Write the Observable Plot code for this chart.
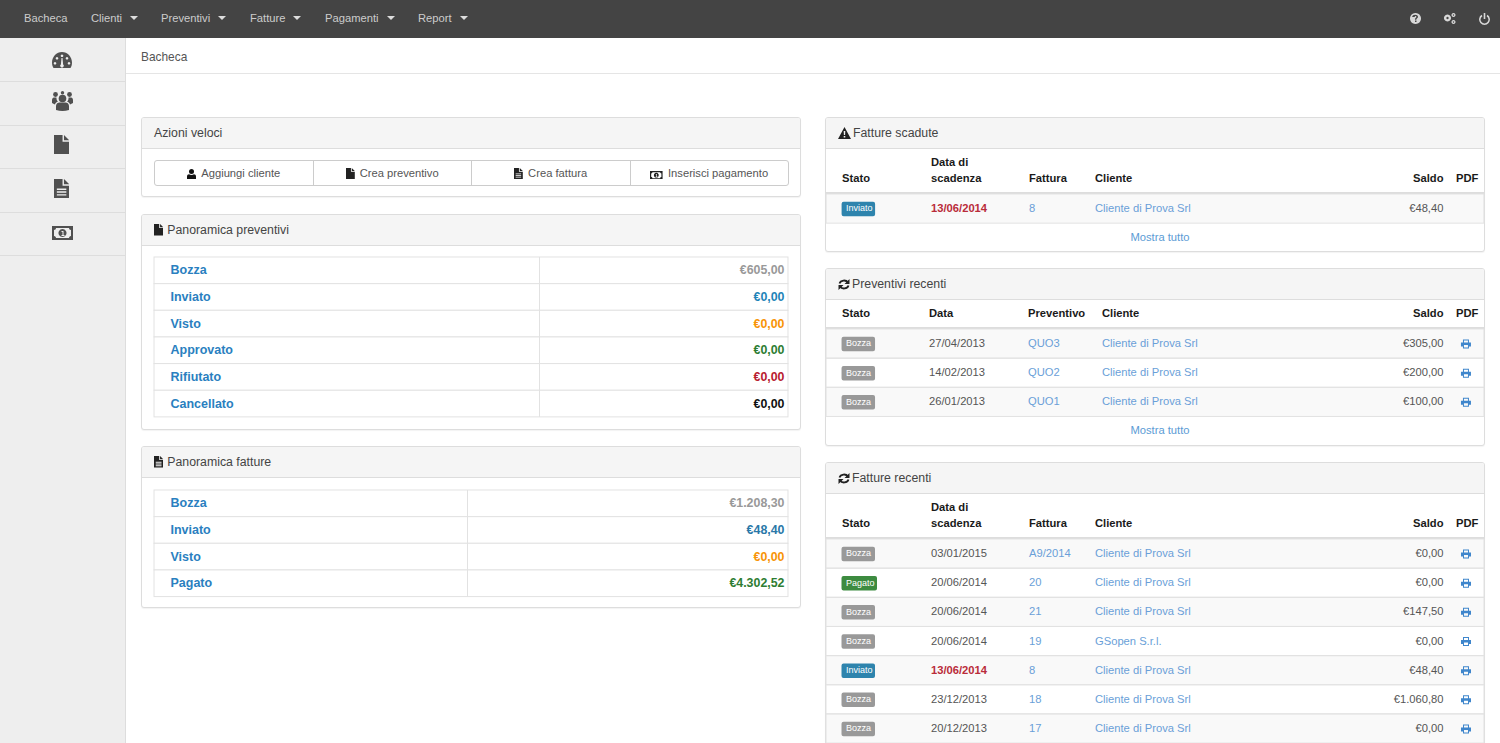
<!DOCTYPE html>
<html lang="it"><head><meta charset="utf-8"><title>Bacheca</title>
<script src="https://cdn.jsdelivr.net/npm/d3@7"></script>
<script src="https://cdn.jsdelivr.net/npm/@observablehq/plot@0.6"></script>
<style>
html,body{margin:0;padding:0;width:1500px;height:743px;overflow:hidden;background:#fff;font-family:"Liberation Sans",Arial,sans-serif;font-size:11.2px;color:#555}
.abs{position:absolute;box-sizing:border-box}
.abs svg{display:block}
#nav{left:0;top:0;width:1500px;height:38px;background:#444}
.nav-i{position:absolute;top:0;line-height:37px;color:#ccc;font-size:11.2px;white-space:nowrap}
.caret{display:inline-block;width:0;height:0;border-left:4px solid transparent;border-right:4px solid transparent;border-top:4px solid #ddd;margin-left:8px;vertical-align:2px}
#side{left:0;top:38px;width:126px;height:705px;background:#eee;border-right:1px solid #ddd}
.side-i{position:absolute;left:0;width:125px;border-bottom:1px solid #ddd;box-sizing:border-box}
.panel{background:#fff;border:1px solid #ddd;border-radius:3px;box-shadow:0 1px 1px rgba(0,0,0,.05);overflow:hidden}
.ph{position:absolute;left:0;top:0;right:0;height:30px;background:#f5f5f5;border-bottom:1px solid #ddd;line-height:31px;font-size:12.3px;color:#444;padding-left:12px;white-space:nowrap}
.abs .ph svg{display:inline-block;vertical-align:-2px;margin-right:3px}
.btns{left:154px;top:160px;width:635px;height:26px;border:1px solid #ccc;border-radius:3px;display:flex;background:#fff}
.btn{flex:1;text-align:center;line-height:24px;color:#555;border-right:1px solid #ccc;white-space:nowrap}
.btn:last-child{border-right:0}
.abs .btn svg{display:inline-block;vertical-align:-2px;margin-right:5px}
.more{text-align:center;color:#5b9bd5;line-height:29px;left:826px;width:668px;height:29px}
.head{border-bottom:2px solid #ddd}
</style></head><body>
<script>
// ---- data ----
const navItems = ["Bacheca", "Clienti", "Preventivi", "Fatture", "Pagamenti", "Report"];
const quickActions = ["Aggiungi cliente", "Crea preventivo", "Crea fattura", "Inserisci pagamento"];

const quoteStatus = ["Bozza", "Inviato", "Visto", "Approvato", "Rifiutato", "Cancellato"];
const quoteTotals = ["€605,00", "€0,00", "€0,00", "€0,00", "€0,00", "€0,00"];
const quoteColors = ["#999999", "#1f84b8", "#f89406", "#2e7d32", "#b8202f", "#111111"];

const invoiceStatus = ["Bozza", "Inviato", "Visto", "Pagato"];
const invoiceTotals = ["€1.208,30", "€48,40", "€0,00", "€4.302,52"];
const invoiceColors = ["#999999", "#2a78a8", "#f89406", "#2e7d32"];

const overdueState = ["Inviato"];
const overdueDate = ["13/06/2014"];
const overdueNum = ["8"];
const overdueClient = ["Cliente di Prova Srl"];
const overdueBalance = ["€48,40"];

const recentQuoteState = ["Bozza", "Bozza", "Bozza"];
const recentQuoteDate = ["27/04/2013", "14/02/2013", "26/01/2013"];
const recentQuoteNum = ["QUO3", "QUO2", "QUO1"];
const recentQuoteClient = ["Cliente di Prova Srl", "Cliente di Prova Srl", "Cliente di Prova Srl"];
const recentQuoteBalance = ["€305,00", "€200,00", "€100,00"];

const recentInvState = ["Bozza", "Pagato", "Bozza", "Bozza", "Inviato", "Bozza", "Bozza"];
const recentInvDate = ["03/01/2015", "20/06/2014", "20/06/2014", "20/06/2014", "13/06/2014", "23/12/2013", "20/12/2013"];
const recentInvNum = ["A9/2014", "20", "21", "19", "8", "18", "17"];
const recentInvClient = ["Cliente di Prova Srl", "Cliente di Prova Srl", "Cliente di Prova Srl", "GSopen S.r.l.", "Cliente di Prova Srl", "Cliente di Prova Srl", "Cliente di Prova Srl"];
const recentInvBalance = ["€0,00", "€0,00", "€147,50", "€0,00", "€48,40", "€1.060,80", "€0,00"];

const badgeColors = {Bozza: "#999999", Inviato: "#2e84ad", Pagato: "#3d8b40"};
const badgeWidths = {Bozza: 33.5, Inviato: 33.5, Pagato: 35.5};

// ---- style / layout ----
const FONT = '"Liberation Sans", Arial, sans-serif';
const LINK = "#6a9fd8", TEXT = "#555555", STRONG = "#1a1a1a", RED = "#b92c3a";
const BASE = 11.2;

// ---- icons (chrome) ----
const svg = (w, h, vb, body, fill) => `<svg width="${w}" height="${h}" viewBox="${vb}" fill="${fill}">${body}</svg>`;
const ico = {
  gauge: c => svg(20, 16, "0 0 20 16", `<path fill-rule="evenodd" d="M1.5 16C.5 14.5 0 12.5 0 10.5 0 4.7 4.5 0 10 0s10 4.700 10 10.500c0 2-.5 4-1.500 5.500zM5 5a1.300 1.300 0 1 0 .01 0zM10 2.500a1.300 1.300 0 1 0 .01 0zM15 5a1.300 1.300 0 1 0 .01 0zM3 10a1.300 1.300 0 1 0 .01 0zM17 10a1.300 1.300 0 1 0 .01 0zM9.500 6l-.6 6.500a1.700 1.700 0 1 0 2.200 0L10.500 6z"/>`, c),
  users: c => svg(21, 20, "0 0 21 20", `<circle cx="10.500" cy="7.500" r="3.800"/><circle cx="3.500" cy="3.500" r="2.400"/><circle cx="10.500" cy="1.700" r="1.700"/><circle cx="17.500" cy="3.500" r="2.400"/><path d="M4 19v-4c0-2.500 2-3.500 3.500-3.500h6c1.500 0 3.500 1 3.500 3.500v4q-6.500 2-13 0zM0 12V9c0-2 1.500-2.500 2.500-2.500h2c-.2 2 .5 3 1.500 4-1.500.5-2.800 1.500-3 3zM21 12V9c0-2-1.500-2.500-2.500-2.500h-2c.2 2-.5 3-1.500 4 1.500.5 2.800 1.500 3 3z"/>`, c),
  file: (c, s = 1) => svg(16 * s, 20 * s, "0 0 16 20", `<path d="M0 0h9v7h7v13H0zM10.500 0L16 5.500h-5.500z"/>`, c),
  filet: (c, s = 1) => svg(16 * s, 20 * s, "0 0 16 20", `<path fill-rule="evenodd" d="M0 0h9v7h7v13H0zM3 10v1.500h10V10zM3 13v1.500h10V13zM3 16v1.500h10V16z"/><path d="M10.500 0L16 5.500h-5.500z"/>`, c),
  money: (c, s = 1) => svg(21 * s, 14 * s, "0 0 21 14", `<path fill-rule="evenodd" d="M0 0h21v14H0zM4 2c0 1-.8 2-2 2v6c1.200 0 2 1 2 2h13c0-1 .8-2 2-2V4c-1.200 0-2-1-2-2zM10.500 3a4 4 0 1 1-.01 0zM9.500 5v1h1v3h-1v1h3V9h-1V5z"/>`, c),
  help: c => svg(11, 11, "0 0 11 11", `<path fill-rule="evenodd" d="M5.500 0a5.500 5.500 0 1 1-.01 0zM5 7.600v1.500h1.500V7.600zM3.200 4h1.500c0-1.400 1.900-1.200 1.700 0-.2.900-1.500 1-1.500 2.800h1.400c0-1.300 1.700-1.500 1.700-3 0-2.800-5.800-3-5.800.2z"/>`, c),
  cogs: c => svg(13, 11, "0 0 13 11", `<path fill-rule="evenodd" d="M4.500 1.500a3.500 3.500 0 1 1-.01 0zM4.500 3.800a1.200 1.200 0 1 0 .01 0zM10.500 0a2 2 0 1 1-.01 0zM10.500 1.300a.7.7 0 1 0 .01 0zM10.500 7a2 2 0 1 1-.01 0zM10.500 8.300a.7.7 0 1 0 .01 0z"/>`, c),
  power: c => svg(11, 12, "0 0 11 12", `<path d="M4.700 0h1.600v6H4.700z"/><path fill="none" stroke="${c}" stroke-width="1.500" d="M3 2.500a4.700 4.700 0 1 0 5 0"/>`, c),
  user: c => svg(9, 10, "0 0 9 10", `<circle cx="4.500" cy="2.500" r="2.500"/><path d="M0 10V7.500C0 6 1 5.500 2 5.300c1.500 1 3.500 1 5 0 1 .2 2 .7 2 2.200V10z"/>`, c),
  warn: c => svg(13, 12, "0 0 13 12", `<path fill-rule="evenodd" d="M6.500 0l6.500 12H0zM5.700 4l.2 4h1.200l.2-4zM5.700 9v1.500h1.600V9z"/>`, c),
  sync: c => svg(12, 11, "0 0 12 11", `<path fill="none" stroke="${c}" stroke-width="1.800" d="M1.500 4.500C2.500 1 8 .5 10 3.500M10.500 6.500C9.500 10 4 10.500 2 7.500"/><path d="M11.500 0v5h-5zM.5 11V6h5z"/>`, c)
};

// ---- helpers ----
function el(cls, css, html = "", parent = document.body) {
  const d = document.createElement("div");
  d.className = cls; Object.assign(d.style, css); d.innerHTML = html;
  parent.appendChild(d); return d;
}
const px = v => v + "px";
function box(x, y, w, h) { return {left: px(x), top: px(y), width: px(w), height: px(h)}; }
function mount(plot, x, y, cls = "", w, h) {
  const d = el("abs " + cls, {left: px(x), top: px(y)});
  if (w) d.style.width = px(w);
  if (h) d.style.height = px(h);
  d.appendChild(plot);
  return d;
}
function panel(x, y, w, h, title, icon, gap = 3) {
  const p = el("abs panel", box(x, y, w, h), `<div class="ph">${icon}${title}</div>`);
  const s = p.querySelector(".ph svg");
  if (s) s.style.marginRight = px(gap);
}
// rounded badge symbol, anchored on its left edge
const badgeSymbol = (w, h = 14.5, r = 2) => ({draw(c) {
  const t = -h / 2, b = h / 2;
  c.moveTo(r, t); c.lineTo(w - r, t); c.arcTo(w, t, w, t + r, r); c.lineTo(w, b - r); c.arcTo(w, b, w - r, b, r);
  c.lineTo(r, b); c.arcTo(0, b, 0, b - r, r); c.lineTo(0, t + r); c.arcTo(0, t, r, t, r); c.closePath();
}});
const printSymbol = {draw(c) {
  c.moveTo(-3, -1.500); c.lineTo(-3, -4.500); c.lineTo(3, -4.500); c.lineTo(3, -1.500); c.lineTo(5, -1.500); c.lineTo(5, 2.500); c.lineTo(3, 2.500);
  c.lineTo(3, 4.500); c.lineTo(-3, 4.500); c.lineTo(-3, 2.500); c.lineTo(-5, 2.500); c.lineTo(-5, -1.500); c.closePath();
  c.moveTo(-2, -3.500); c.lineTo(-2, -1.500); c.lineTo(2, -1.500); c.lineTo(2, -3.500); c.closePath();
  c.moveTo(-2, 1); c.lineTo(-2, 3.500); c.lineTo(2, 3.500); c.lineTo(2, 1); c.closePath();
}};

// Column scale shared by the list tables: column index -> pixel
const COLS = {state: 0, date: 1, num: 2, client: 3, balance: 4, pdf: 5, icon: 6};
function listHeader(x, y, h, colRange, labels) {
  const rows = Object.entries(labels).map(([k, text]) => ({col: COLS[k], text}));
  return mount(Plot.plot({
    width: 658, height: h, margin: 0, style: {fontFamily: FONT, background: "transparent"},
    x: {type: "linear", domain: colRange.map((_, i) => i), range: colRange, axis: null},
    marks: [
      Plot.text(rows.filter(r => r.col !== COLS.balance), {x: "col", text: "text", frameAnchor: "bottom", lineAnchor: "bottom", dy: -11, textAnchor: "start", lineHeight: 1.4, fontSize: BASE, fontWeight: "bold", fill: STRONG}),
      Plot.text(rows.filter(r => r.col === COLS.balance), {x: "col", text: "text", frameAnchor: "bottom", lineAnchor: "bottom", dy: -11, textAnchor: "end", fontSize: BASE, fontWeight: "bold", fill: STRONG})
    ]
  }), x, y, "head", 658, h + 2);
}
function listBody(x, y, colRange, step, rowsIn, hasPdf) {
  const rows = rowsIn.state.map((s, i) => ({i, state: s, date: rowsIn.date[i], num: rowsIn.num[i], client: rowsIn.client[i], balance: rowsIn.balance[i], late: rowsIn.date[i] === "13/06/2014"}));
  const common = {y: "i", lineAnchor: "middle", fontSize: BASE, dy: -0.5};
  return mount(Plot.plot({
    width: 658, height: step * rows.length, margin: 0, style: {fontFamily: FONT, background: "transparent", overflow: "visible"},
    x: {type: "linear", domain: colRange.map((_, i) => i), range: colRange, axis: null},
    y: {type: "band", domain: rows.map(r => r.i), padding: 0, round: false, axis: null},
    color: {type: "identity"},
    marks: [
      Plot.cell(rows, {y: "i", fill: d => d.i % 2 ? "#ffffff" : "#f9f9f9"}),
      Plot.cell(rows, {y: "i", fill: "none", stroke: "#e2e2e2", strokeWidth: 1}),
      ...Object.keys(badgeColors).map(k => Plot.dot(rows.filter(r => r.state === k), {x: () => COLS.state, y: "i", symbol: badgeSymbol(badgeWidths[k]), fill: badgeColors[k], stroke: "none", dx: -0.5})),
      Plot.text(rows, {x: () => COLS.state, ...common, text: "state", textAnchor: "start", dx: 4, fontSize: 9, fill: "#ffffff"}),
      Plot.text(rows.filter(r => !r.late), {x: () => COLS.date, ...common, text: "date", textAnchor: "start", fill: TEXT}),
      Plot.text(rows.filter(r => r.late), {x: () => COLS.date, ...common, text: "date", textAnchor: "start", fill: RED, fontWeight: "bold"}),
      Plot.text(rows, {x: () => COLS.num, ...common, text: "num", textAnchor: "start", fill: LINK}),
      Plot.text(rows, {x: () => COLS.client, ...common, text: "client", textAnchor: "start", fill: LINK}),
      Plot.text(rows, {x: () => COLS.balance, ...common, text: "balance", textAnchor: "end", fill: TEXT}),
      hasPdf ? Plot.dot(rows, {x: () => COLS.icon, y: "i", symbol: printSymbol, fill: "#3f86cc", stroke: "none"}) : null
    ]
  }), x, y);
}
function overview(x, y, rowsL, totals, colors, sep) {
  const rows = rowsL.map((s, i) => ({s, t: totals[i], c: colors[i]}));
  const step = 26.65;
  return mount(Plot.plot({
    width: 634, height: step * rows.length, margin: 0, style: {fontFamily: FONT, background: "transparent", overflow: "visible"},
    x: {type: "linear", domain: [0, 1, 2], range: [16, sep, 630], axis: null},
    y: {type: "band", domain: rowsL, padding: 0, round: false, axis: null},
    color: {type: "identity"},
    marks: [
      Plot.cell(rows, {y: "s", fill: "#ffffff", stroke: "#e2e2e2", strokeWidth: 1}),
      Plot.ruleX([1], {x: d => d, stroke: "#e2e2e2", strokeWidth: 1}),
      Plot.text(rows, {x: () => 0, y: "s", text: "s", textAnchor: "start", lineAnchor: "middle", fontSize: 12.5, fontWeight: "bold", fill: "#2a7fc0", dy: -0.5}),
      Plot.text(rows, {x: () => 2, y: "s", text: "t", textAnchor: "end", lineAnchor: "middle", fontSize: 12.4, fontWeight: "bold", fill: "c", dy: -0.5})
    ]
  }), x, y);
}

// ---- top bar ----
const nav = el("abs", {});
nav.id = "nav";
const navX = [24, 91, 161, 250, 325, 418];
navItems.forEach((t, i) => el("nav-i", {left: px(navX[i])}, t + (i ? '<span class="caret"></span>' : ""), nav));
[[1410, ico.help, 13], [1443, ico.cogs, 13], [1478.5, ico.power, 13]].forEach(([x, f, y]) => el("abs", {left: px(x), top: px(y), lineHeight: 0}, f("#d8d8d8"), nav));

// ---- side bar ----
const side = el("abs", {}); side.id = "side";
const sideY = [0, 44, 88, 131, 175], sideH = [44, 44, 43, 44, 43];
const sideIcons = [ico.gauge("#505050"), ico.users("#505050"), ico.file("#505050", .95), ico.filet("#505050", .95), ico.money("#505050")];
const sideIconY = [14, 53, 97, 141, 188];
sideY.forEach((y, i) => {
  el("side-i", {top: px(y), height: px(sideH[i])}, "", side);
  el("abs", {left: px(i < 2 || i === 4 ? 52 : 54), top: px(sideIconY[i]), lineHeight: 0}, sideIcons[i], side);
});

// ---- breadcrumb ----
el("abs", {left: "126px", top: "38px", width: "1374px", height: "36px", borderBottom: "1px solid #e5e5e5", lineHeight: "38px", paddingLeft: "15px", color: "#555", fontSize: "11.9px"}, "Bacheca");

// ---- left column ----
panel(141, 117, 660, 80, "Azioni veloci", "");
const btns = el("abs btns", {});
const btnIcons = [ico.user("#111"), ico.file("#222", .55), ico.filet("#222", .55), ico.money("#222", .6)];
quickActions.forEach((t, i) => el("btn", {}, btnIcons[i] + t, btns));

panel(141, 214, 660, 216, "Panoramica preventivi", ico.file("#222", .58), 4);
overview(153.5, 257, quoteStatus, quoteTotals, quoteColors, 385);
panel(141, 446, 660, 162, "Panoramica fatture", ico.filet("#222", .58), 4);
overview(153.5, 489.5, invoiceStatus, invoiceTotals, invoiceColors, 313);

// ---- right column ----
const invCols = [15.5, 104.5, 202.5, 268.5, 617, 629.5, 639.5];
const quoCols = [15.5, 102.5, 201.5, 275.5, 617, 629.5, 639.5];
const invLabels = {state: "Stato", date: "Data di\nscadenza", num: "Fattura", client: "Cliente", balance: "Saldo", pdf: "PDF"};
const quoLabels = {state: "Stato", date: "Data", num: "Preventivo", client: "Cliente", balance: "Saldo", pdf: "PDF"};
const STEP = 29.15;

panel(825, 117, 660, 135, "Fatture scadute", ico.warn("#222"), 2);
listHeader(826, 149, 43, invCols, invLabels);
listBody(826, 193.500, invCols, STEP, {state: overdueState, date: overdueDate, num: overdueNum, client: overdueClient, balance: overdueBalance}, false);
el("abs more", {top: "222.500px"}, "Mostra tutto");

panel(825, 268, 660, 178, "Preventivi recenti", ico.sync("#222"), 2);
listHeader(826, 299, 28, quoCols, quoLabels);
listBody(826, 328.500, quoCols, STEP, {state: recentQuoteState, date: recentQuoteDate, num: recentQuoteNum, client: recentQuoteClient, balance: recentQuoteBalance}, true);
el("abs more", {top: "416px"}, "Mostra tutto");

panel(825, 462, 660, 300, "Fatture recenti", ico.sync("#222"), 2);
listHeader(826, 494, 43, invCols, invLabels);
listBody(826, 538.500, invCols, STEP, {state: recentInvState, date: recentInvDate, num: recentInvNum, client: recentInvClient, balance: recentInvBalance}, true);
</script>
</body></html>
